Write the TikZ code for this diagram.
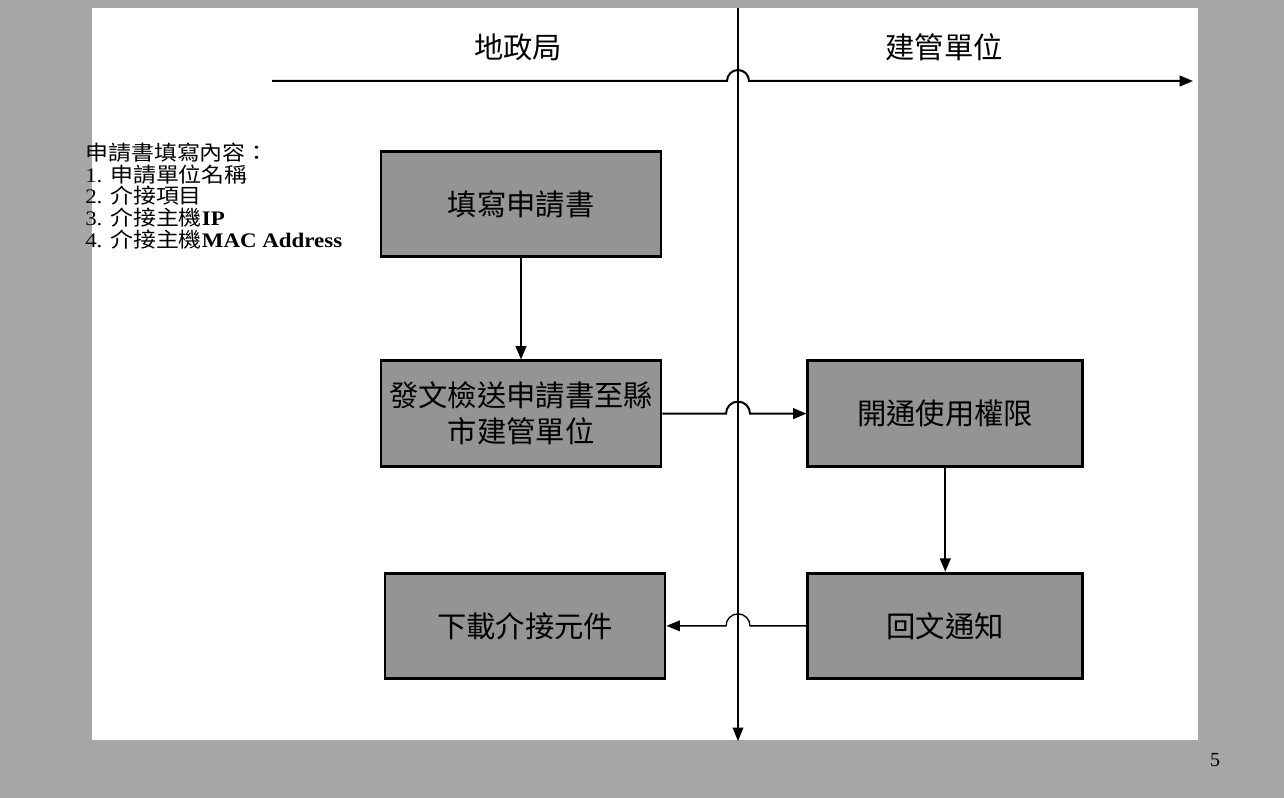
\documentclass[tikz,border=0pt]{standalone}
\usepackage{fontspec}
\setmainfont{Liberation Serif}
\newfontfamily\cjk{Noto Sans CJK TC}
\newfontfamily\notecjk[FakeStretch=1.11]{Noto Sans CJK TC}
\newfontfamily\noteserif[FakeStretch=1.11]{Liberation Serif}
\usetikzlibrary{positioning,calc,arrows.meta}

\begin{document}
\begin{tikzpicture}[x=0.75pt,y=-0.75pt,
      procbox/.style={draw=black,line width=2.2pt,fill=black!42,minimum width=210pt,minimum height=79pt,
        inner sep=3pt,align=center,font=\cjk\fontsize{22}{27}\selectfont},
      lane/.style={font=\cjk\fontsize{22}{26}\selectfont},
      flow/.style={line width=1.5pt,-{Triangle[length=10pt,width=8pt]}},
      thinflow/.style={line width=1pt,-{Triangle[length=10pt,width=8pt]}},
    ]
        \useasboundingbox (0,0) rectangle (1284,798);
        \fill[black!35] (0,0) rectangle (1284,798);
        \fill[white] (92,8) rectangle (1198,740);

        \coordinate (vtop) at (738,8);
        \coordinate (vbot) at (738,741);
        \coordinate (hstart) at (272,81);
        \coordinate (hend) at (1193,81);

        \node[lane] (lhs) at (518,47) {地政局};
        \node[lane] (rhs) at (944,47) {建管單位};

        \node[anchor=north west,align=left,inner sep=0pt,font=\noteserif\fontsize{15.5}{16.2}\selectfont] (note) at (85,143) {%
            {\notecjk 申請書填寫內容：}\\
            1. {\notecjk 申請單位名稱}\\
            2. {\notecjk 介接項目}\\
            3. {\notecjk 介接主機}\textbf{IP}\\
            4. {\notecjk 介接主機}\textbf{MAC Address}};

        \node[procbox] (fill) at (521,204) {填寫申請書};
        \node[procbox,below=76pt of fill] (send) {發文檢送申請書至縣\\市建管單位};
        \node[procbox,minimum width=206pt,right=108pt of send] (open) {開通使用權限};
        \node[procbox,minimum width=206pt,below=78pt of open] (reply) {回文通知};
        \node[procbox,left=105pt of reply] (load) {下載介接元件};

        \node[font=\fontsize{15}{17}\selectfont] (pg) at (1215,760) {5};

        \draw[thinflow] (vtop) -- (vbot);
        \draw[flow] (hstart) -- ($(hstart -| vtop)+(-11,0)$)
            arc[start angle=180,end angle=360,radius=11] -- (hend);
        \draw[flow] (fill) -- (send);
        \draw[flow] (send.east) -- ($(send.east -| vtop)+(-12,0)$)
            arc[start angle=180,end angle=360,radius=12] -- (open.west);
        \draw[flow] (open) -- (reply);
        \draw[thinflow] (reply.west) -- ($(reply.west -| vtop)+(12,0)$)
            arc[start angle=0,end angle=-180,radius=12] -- (load.east);
    \end{tikzpicture}
\end{document}
